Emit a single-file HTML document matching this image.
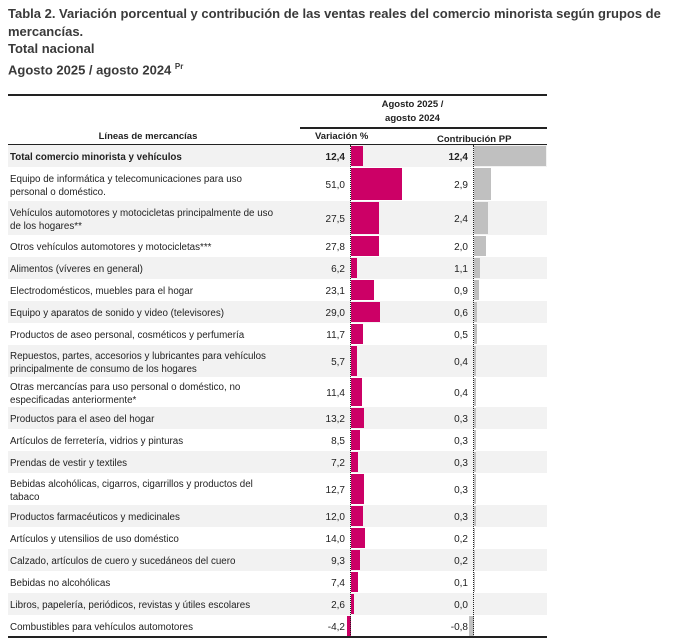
<!DOCTYPE html>
<html><head><meta charset="utf-8"><style>
body{margin:0;width:679px;height:640px;background:#fff;font-family:"Liberation Sans",sans-serif;color:#222;position:relative;overflow:hidden}
.t{position:absolute;left:8px;font-weight:bold;font-size:13px;color:#3a3a3a;line-height:17.5px;white-space:nowrap;letter-spacing:0px}
.a{position:absolute;font-size:10px;white-space:nowrap}
.l{position:absolute;background:#222}
</style></head><body>
<div class="t" style="top:5px">Tabla 2. Variación porcentual y contribución de las ventas reales del comercio minorista según grupos de<br>mercancías.<br>Total nacional<br>Agosto 2025 / agosto 2024 <sup style="font-size:8px">Pr</sup></div>
<div class="l" style="left:8px;top:94px;width:539px;height:1.5px"></div>
<div class="a" style="left:350px;top:98px;width:125px;text-align:center;font-weight:bold;line-height:14px;font-size:9.5px">Agosto 2025 /<br>agosto 2024</div>
<div class="l" style="left:300px;top:127px;width:247px;height:1.5px"></div>
<div class="a" style="left:8px;width:280px;text-align:center;top:131px;font-weight:bold;font-size:9.5px">Líneas de mercancías</div>
<div class="a" style="left:315px;top:131px;font-weight:bold;font-size:9.5px">Variación %</div>
<div class="a" style="left:437px;top:134px;font-weight:bold;font-size:9.5px">Contribución PP</div>
<div class="l" style="left:8px;top:144px;width:539px;height:1.5px"></div>
<div id="rows"></div>
<div class="l" style="left:8px;top:636px;width:539px;height:1.5px"></div>
<script>
const categories=["Total comercio minorista y vehículos","Equipo de informática y telecomunicaciones para uso<br>personal o doméstico.","Vehículos automotores y motocicletas principalmente de uso<br>de los hogares**","Otros vehículos automotores y motocicletas***","Alimentos (víveres en general)","Electrodomésticos, muebles para el hogar","Equipo y aparatos de sonido y video (televisores)","Productos de aseo personal, cosméticos y perfumería","Repuestos, partes, accesorios y lubricantes para vehículos<br>principalmente de consumo de los hogares","Otras mercancías para uso personal o doméstico, no<br>especificadas anteriormente*","Productos para el aseo del hogar","Artículos de ferretería, vidrios y pinturas","Prendas de vestir y textiles","Bebidas alcohólicas, cigarros, cigarrillos y productos del<br>tabaco","Productos farmacéuticos y medicinales","Artículos y utensilios de uso doméstico","Calzado, artículos de cuero y sucedáneos del cuero","Bebidas no alcohólicas","Libros, papelería, periódicos, revistas y útiles escolares","Combustibles para vehículos automotores"];
const variacion=[12.4,51.0,27.5,27.8,6.2,23.1,29.0,11.7,5.7,11.4,13.2,8.5,7.2,12.7,12.0,14.0,9.3,7.4,2.6,-4.2];
const contribucion=[12.4,2.9,2.4,2.0,1.1,0.9,0.6,0.5,0.4,0.4,0.3,0.3,0.3,0.3,0.3,0.2,0.2,0.1,0.0,-0.8];
const rowHeights=[22,34,34,22,22,22,22,22,32,30,22,22,22,32,22,22,22,22,22,22];
const vx0=351,vk=1.0,cx0=474,ck=5.8;
const vScale=v=>v*vk, cScale=v=>v*ck;
const fmt=v=>v.toFixed(1).replace('.',',');
const root=document.getElementById('rows');
let y=145,h='';
categories.forEach((c,i)=>{
 const rh=rowHeights[i],bg=i%2==0?'#f2f2f2':'#fff',b=i==0?'font-weight:bold;':'';
 h+=`<div style="position:absolute;left:8px;top:${y}px;width:539px;height:${rh}px;background:${bg}"></div>`;
 h+=`<div class="a" style="${b}left:10px;top:${y+2}px;height:${rh}px;display:flex;align-items:center;line-height:13.5px;font-size:9.8px">${c}</div>`;
 h+=`<div class="a" style="${b}left:295px;width:50px;text-align:right;top:${y+rh/2-4}px">${fmt(variacion[i])}</div>`;
 h+=`<div class="a" style="${b}left:418px;width:50px;text-align:right;top:${y+rh/2-4}px">${fmt(contribucion[i])}</div>`;
 const vw=vScale(variacion[i]),cw=cScale(contribucion[i]);
 h+=`<div style="position:absolute;background:#cc0066;top:${y+1}px;height:${rh-2}px;left:${vw>=0?vx0:vx0+vw}px;width:${Math.abs(vw)}px"></div>`;
 h+=`<div style="position:absolute;background:#c0c0c0;top:${y+1}px;height:${rh-2}px;left:${cw>=0?cx0:cx0+cw}px;width:${Math.abs(cw)}px"></div>`;
 y+=rh;
});
h+=`<div style="position:absolute;left:${vx0-1}px;top:145px;height:${y-145}px;border-left:1.5px dotted #222"></div>`;
h+=`<div style="position:absolute;left:${cx0-1}px;top:145px;height:${y-145}px;border-left:1.5px dotted #222"></div>`;
root.innerHTML=h;
</script>
</body></html>
